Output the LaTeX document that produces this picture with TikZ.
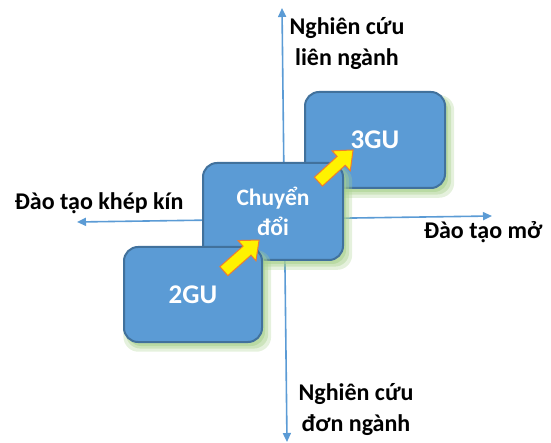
\documentclass[tikz,border=0pt]{standalone}
\usepackage{fontspec}
\setmainfont{Carlito}
\usetikzlibrary{arrows.meta,shapes.arrows,shadows}
\definecolor{boxfill}{HTML}{5B9BD5}
\definecolor{boxline}{HTML}{41719C}
\definecolor{axis}{HTML}{5B9BD5}
\definecolor{glow}{HTML}{A9D18E}
\definecolor{arrline}{HTML}{ED7D31}
\begin{document}
\begin{tikzpicture}[x=1pt,y=-1pt,
  box/.style={draw=boxline, line width=2pt, fill=boxfill, rounded corners=14pt,
    text=white, font=\bfseries\fontsize{27}{30}\selectfont, align=center, inner sep=0pt,
    general shadow={fill=glow, opacity=0.3, shadow xshift=4pt, shadow yshift=-6pt, shadow scale=1.07},
    general shadow={fill=glow, opacity=0.4, shadow xshift=4pt, shadow yshift=-5pt, shadow scale=1.03},
    general shadow={fill=glow, opacity=0.55, shadow xshift=3pt, shadow yshift=-4pt}},
  axisline/.style={draw=axis, line width=1.6pt, {Triangle[length=9pt,width=8pt]}-{Triangle[length=9pt,width=8pt]}},
  lbl/.style={font=\bfseries\fontsize{24}{31}\selectfont, align=center, text=black, inner sep=0pt},
  yarrow/.style={single arrow, fill=yellow, draw=arrline, line width=1pt, inner sep=0pt,
    text height=11pt, text depth=0pt, text width=0pt, minimum height=47pt,
    single arrow head extend=7.5pt, single arrow tip angle=80, anchor=tail}
]
\useasboundingbox (0,0) rectangle (551,443);
% axes
\coordinate (vtop) at (282,8);
\coordinate (vbot) at (287,442);
\coordinate (hleft) at (77,222);
\coordinate (hright) at (492,216);
\draw[axisline] (vbot) -- (vtop);
\draw[axisline] (hleft) -- (hright);
% boxes
\node[box, minimum width=140pt, minimum height=96pt] (b3) at (375,140) {3GU};
\node[box, minimum width=140pt, minimum height=97pt, font=\bfseries\fontsize{23.5}{30}\selectfont] (b2) at (273,211.5) {Chuyển\\đổi};
\node[box, minimum width=138pt, minimum height=95pt] (b1) at (193,294.5) {2GU};
% yellow arrows
\node[yarrow, rotate=41.5] (a1) at (223.5,271.5) {};
\node[yarrow, rotate=42.4] (a2) at (318,182) {};
% labels
\node[lbl] (ltop) at (347,44) {Nghiên cứu\\liên ngành};
\node[lbl] (lbot) at (356,410) {Nghiên cứu\\đơn ngành};
\node[lbl] (lleft) at (99,203) {Đào tạo khép kín};
\node[lbl] (lright) at (483,232) {Đào tạo mở};
\end{tikzpicture}
\end{document}
